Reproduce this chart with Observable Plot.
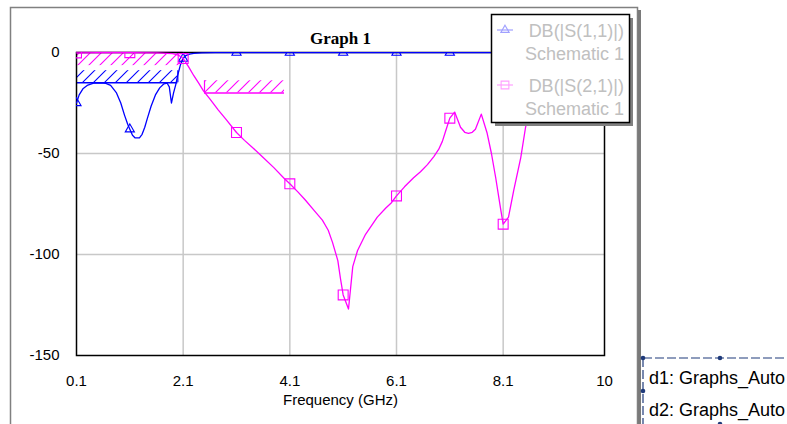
<!DOCTYPE html>
<html><head><meta charset="utf-8">
<script src="https://cdn.jsdelivr.net/npm/d3@7"></script>
<script src="https://cdn.jsdelivr.net/npm/@observablehq/plot@0.6"></script>
<style>body{margin:0;background:#fff}</style>
</head><body><div id="chart"></div>
<script>
// ---- data ----
const s11Freq = [0.1,0.15,0.22,0.3,0.42,0.55,0.65,0.74,0.85,0.93,1.0,1.06,1.1,1.15,1.2,1.28,1.33,1.38,1.43,1.5,1.58,1.66,1.74,1.8,1.84,1.88,1.92,1.96,2.0,2.05,2.1,2.15,2.22,2.3,2.45,2.7,3.1,4.1,5.1,6.1,7.1,8.1,9.1,10];
const s11DB   = [-25,-21,-18,-16.3,-15.2,-15,-15.3,-16.3,-20,-25,-31,-35.5,-38,-41,-42.3,-42.3,-40.5,-37,-32.5,-26.5,-21,-17.5,-15.5,-15.2,-17,-25,-20,-16,-11,-6,-3,-1.5,-0.8,-0.4,-0.2,-0.1,-0.05,-0.05,-0.05,-0.05,-0.05,-0.05,-0.05,-0.05];
const s21Freq = [0.1,0.5,1.1,1.6,1.9,2.0,2.05,2.1,2.2,2.3,2.4,2.48,2.6,2.76,2.9,3.1,3.25,3.42,3.6,3.8,4.0,4.1,4.25,4.39,4.55,4.71,4.82,4.9,5.0,5.05,5.1,5.2,5.28,5.37,5.52,5.74,5.9,6.0,6.1,6.25,6.42,6.55,6.68,6.8,6.89,6.96,7.02,7.1,7.19,7.25,7.3,7.38,7.45,7.52,7.58,7.69,7.8,7.88,7.96,8.05,8.1,8.2,8.3,8.43,8.52,8.6,8.8,9.1,9.5,10];
const s21DB   = [-0.2,-0.1,-0.1,-0.2,-0.6,-1.2,-2,-3,-7,-11.5,-15.5,-19,-23,-28.5,-33,-39.6,-43.5,-47.5,-52,-57,-62.5,-65,-69,-73,-78,-83,-88,-94,-103,-112,-120,-127,-106,-98,-90,-81.5,-77,-74.5,-71,-66.5,-62,-59,-55.5,-51.5,-48,-44,-39,-32.5,-29.5,-33.5,-37,-39.5,-40,-39.5,-38,-30.5,-40,-50,-62,-77,-85,-81.5,-68,-52,-37,-28,-18,-12,-8,-6];
const markerFreq = [0.1,1.1,2.1,3.1,4.1,5.1,6.1,7.1,8.1,9.1];
const seriesNames = ["DB(|S(1,1)|)", "DB(|S(2,1)|)"];
const seriesSource = "Schematic 1";
const xTicks = [0.1,2.1,4.1,6.1,8.1,10];
const yTicks = [0,-50,-100,-150];
const xGrid = [2.1,4.1,6.1,8.1];
const yGrid = [-50,-100];
// specification masks: series index, start/end frequency, limit level, far side of hatch band, inner edge
const maskSeries = [0, 1, 1];
const maskStart  = [0.1, 0.1, 2.5];
const maskEnd    = [2.0, 2.1, 4.0];
const maskLevel  = [-15, 0, -20];
const maskBand   = [-9, -6.5, -14];
const maskEdge   = ["end", "none", "start"];
const dataSets = ["d1: Graphs_Auto", "d2: Graphs_Auto"];
const titleText = "Graph 1";
const xLabel = "Frequency (GHz)";

// ---- tables ----
const colors = ["#0000ff", "#ff00ff"];
const lightColors = ["#a0a0ff", "#ffa0ff"];
const patterns = ["hatchBlue", "hatchPink"];
const s11 = s11Freq.map((f, i) => ({f, db: s11DB[i]}));
const s21 = s21Freq.map((f, i) => ({f, db: s21DB[i]}));
const isMarker = d => markerFreq.some(m => Math.abs(m - d.f) < 1e-9);
const masks = maskSeries.map((s, i) => ({s, x1: maskStart[i], x2: maskEnd[i], level: maskLevel[i], band: maskBand[i], edge: maskEdge[i]}));
const edges = masks.filter(m => m.edge !== "none").map(m => ({...m, x: m.edge === "end" ? m.x2 : m.x1}));

function defsMark() {
  const g = d3.create("svg:g");
  const defs = g.append("defs");
  patterns.forEach((id, i) => {
    const p = defs.append("pattern").attr("id", id).attr("patternUnits", "userSpaceOnUse")
      .attr("width", 11).attr("height", 11);
    p.append("path").attr("d", "M-2,2L2,-2M0,11L11,0M9,13L13,9")
      .attr("stroke", colors[i]).attr("stroke-width", 1.1).attr("fill", "none");
  });
  // outer window frame
  g.append("path").attr("d", "M10.5,430V7.5H637.5V430").attr("fill", "none").attr("stroke", "#808080").attr("stroke-width", 1.5);
  g.append("rect").attr("x", 638).attr("y", 10).attr("width", 3).attr("height", 420).attr("fill", "#7a7a7a");
  return g.node();
}

function legendMark() {
  const g = d3.create("svg:g").attr("font-family", "'Liberation Sans', Arial, sans-serif").attr("text-anchor", "start");
  g.append("rect").attr("x", 495).attr("y", 18).attr("width", 138).attr("height", 108).attr("fill", "#808080");
  g.append("rect").attr("x", 491.5).attr("y", 14.5).attr("width", 138).attr("height", 108)
    .attr("fill", "#fff").attr("stroke", "#000").attr("stroke-width", 1.5);
  const sym = [d3.symbol(d3.symbolTriangle, 30), d3.symbol(d3.symbolSquare, 60)];
  seriesNames.forEach((name, i) => {
    const y = 30 + i * 55;
    g.append("line").attr("x1", 497).attr("x2", 513).attr("y1", y).attr("y2", y)
      .attr("stroke", lightColors[i]).attr("stroke-width", 1.2);
    g.append("path").attr("d", sym[i]()).attr("transform", `translate(505,${y})`)
      .attr("fill", "none").attr("stroke", lightColors[i]).attr("stroke-width", 1.1);
    g.append("text").attr("x", 624).attr("y", y + 7).attr("text-anchor", "end")
      .attr("font-size", 18).attr("fill", "#c0c0c0").text(name);
    g.append("text").attr("x", 624).attr("y", y + 30).attr("text-anchor", "end")
      .attr("font-size", 18).attr("fill", "#c0c0c0").text(seriesSource);
  });
  // data set widget (bottom right)
  const navy = "#1f3a7a";
  g.append("path").attr("d", "M643,358H787M643,358V430").attr("fill", "none")
    .attr("stroke", navy).attr("stroke-width", 1.2).attr("stroke-dasharray", "9,3");
  [[643,358],[720,358],[643,391],[720,424]].forEach(([x, y]) =>
    g.append("circle").attr("cx", x).attr("cy", y).attr("r", 2.3).attr("fill", navy));
  dataSets.forEach((t, i) => {
    g.append("text").attr("x", 649).attr("y", 384 + i * 32).attr("text-anchor", "start")
      .attr("font-size", 18).attr("fill", "#000").text(t);
  });
  return g.node();
}

const chart = Plot.plot({
  width: 787,
  height: 424,
  marginLeft: 76,
  marginRight: 183,
  marginTop: 52,
  marginBottom: 69,
  style: {fontFamily: "'Liberation Sans', Arial, sans-serif", fontSize: "15px", background: "#fff", color: "#000", overflow: "visible"},
  x: {domain: [0.1, 10], label: null},
  y: {domain: [-150, 0], label: null},
  marks: [
    defsMark,
    Plot.gridX(xGrid, {stroke: "#c8c8c8", strokeOpacity: 1, strokeWidth: 1.5}),
    Plot.gridY(yGrid, {stroke: "#c8c8c8", strokeOpacity: 1, strokeWidth: 1.5}),
    ...[0, 1].map(s => Plot.rect(masks.filter(m => m.s === s), {x1: "x1", x2: "x2", y1: "level", y2: "band", fill: `url(#${patterns[s]})`})),
    ...[0, 1].map(s => Plot.ruleY(masks.filter(m => m.s === s), {y: "level", x1: "x1", x2: "x2", stroke: colors[s], strokeWidth: 1.5})),
    ...[0, 1].map(s => Plot.ruleX(edges.filter(m => m.s === s), {x: "x", y1: "level", y2: "band", stroke: colors[s], strokeWidth: 1.2})),
    Plot.frame({stroke: "#000", strokeWidth: 1.5}),
    Plot.line(s11, {x: "f", y: "db", stroke: colors[0], strokeWidth: 1.3, clip: true}),
    Plot.dot(s11.filter(isMarker), {x: "f", y: "db", symbol: "triangle", r: 3.4, stroke: colors[0], fill: "none", strokeWidth: 1.1, clip: true}),
    Plot.line(s21, {x: "f", y: "db", stroke: colors[1], strokeWidth: 1.3, clip: true}),
    Plot.dot(s21.filter(isMarker), {x: "f", y: "db", symbol: "square", r: 5.6, stroke: colors[1], fill: "none", strokeWidth: 1.1, clip: true}),
    Plot.axisX(xTicks, {tickSize: 0, tickPadding: 20, fontSize: 15, tickFormat: d => String(d)}),
    Plot.axisY(yTicks, {tickSize: 0, tickPadding: 17, fontSize: 15, tickFormat: d => String(d)}),
    Plot.text([titleText], {frameAnchor: "top", lineAnchor: "bottom", dy: -9, text: d => d, fontFamily: "'Liberation Serif', 'Times New Roman', serif", fontWeight: "bold", fontSize: 17}),
    Plot.text([xLabel], {frameAnchor: "bottom", lineAnchor: "middle", dy: 45, text: d => d, fontSize: 15}),
    legendMark
  ]
});
document.getElementById("chart").appendChild(chart);
</script>
</body></html>
